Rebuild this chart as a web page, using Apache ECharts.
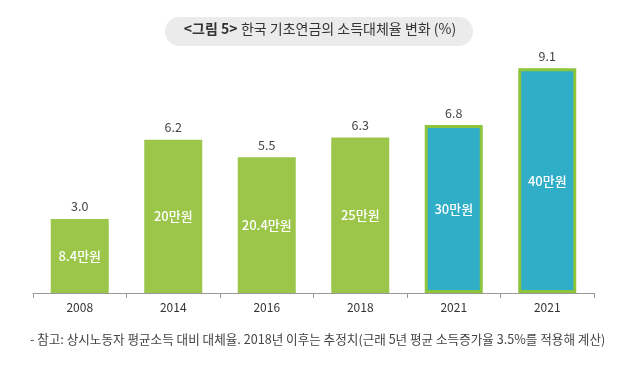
<!DOCTYPE html>
<html>
<head>
<meta charset="utf-8">
<script src="https://cdn.jsdelivr.net/npm/echarts@6/dist/echarts.min.js"></script>
<style>
  html, body { margin: 0; padding: 0; background: #fff; }
  #chart { width: 640px; height: 375px; }
</style>
</head>
<body>
<div id="chart"></div>
<script>
var years = ['2008', '2014', '2016', '2018', '2021', '2021'];
var rates = [3.0, 6.2, 5.5, 6.3, 6.8, 9.1];
var pensions = ['8.4만원', '20만원', '20.4만원', '25만원', '30만원', '40만원'];
var estimated = [false, false, false, false, true, true];

var font = '"Noto Sans CJK KR", "Noto Sans", sans-serif';

var barData = rates.map(function (v, i) {
  if (estimated[i]) {
    return {
      value: v,
      itemStyle: { color: '#30aec8', borderColor: '#8cc43c', borderWidth: 3 }
    };
  }
  return { value: v, itemStyle: { color: '#9bc64a' } };
});

var chart = echarts.init(document.getElementById('chart'));
chart.setOption({
  backgroundColor: '#fff',
  animation: false,
  grid: { left: 33, right: 46, top: 46, bottom: 82 },
  graphic: [
    {
      type: 'rect',
      shape: { x: 165, y: 17, width: 308, height: 29, r: 14.5 },
      style: { fill: '#ebebeb' }
    },
    {
      type: 'text',
      left: 'center',
      top: 22,
      style: {
        rich: {
          b: { fontFamily: font, fontSize: 14, fontWeight: 'bold', fill: '#333' },
          n: { fontFamily: font, fontSize: 14, fill: '#333' }
        },
        text: '{b|<그림 5>} {n|한국 기초연금의 소득대체율 변화 (%)}'
      }
    },
    {
      type: 'text',
      left: 30,
      top: 333,
      style: {
        text: '- 참고: 상시노동자 평균소득 대비 대체율. 2018년 이후는 추정치(근래 5년 평균 소득증가율 3.5%를 적용해 계산)',
        fontFamily: font,
        fontSize: 12.6,
        fill: '#444'
      }
    }
  ],
  xAxis: {
    type: 'category',
    data: years,
    axisLine: { lineStyle: { color: '#999', width: 1 } },
    axisTick: { show: true, length: 5, lineStyle: { color: '#999' } },
    axisLabel: { color: '#333', fontFamily: font, fontSize: 12, margin: 8 }
  },
  yAxis: {
    type: 'value',
    min: 0,
    max: 10,
    show: false,
    splitLine: { show: false }
  },
  series: [
    {
      type: 'bar',
      data: barData,
      barWidth: 58,
      label: {
        show: true,
        position: 'top',
        distance: 6,
        color: '#444',
        fontFamily: font,
        fontSize: 12.5,
        formatter: function (p) { return p.value.toFixed(1); }
      }
    },
    {
      type: 'bar',
      data: rates,
      barWidth: 58,
      barGap: '-100%',
      itemStyle: { color: 'transparent' },
      silent: true,
      label: {
        show: true,
        position: 'inside',
        color: '#fff',
        fontFamily: font,
        fontSize: 13,
        fontWeight: 500,
        formatter: function (p) { return pensions[p.dataIndex]; }
      }
    }
  ]
});
</script>
</body>
</html>
